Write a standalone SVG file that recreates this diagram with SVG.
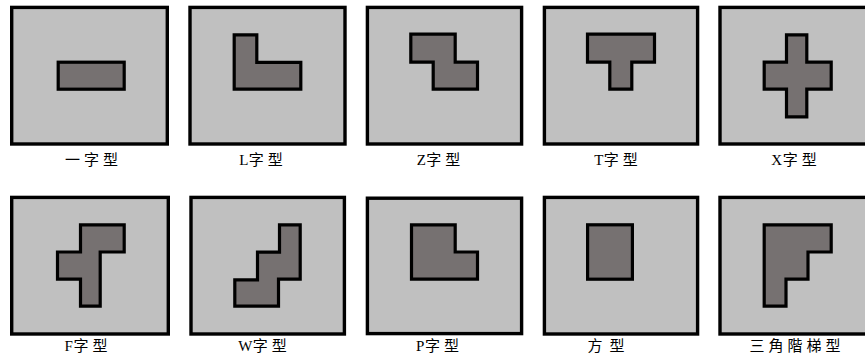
<svg xmlns="http://www.w3.org/2000/svg" width="865" height="359" viewBox="0 0 865 359">
<style>
.bg{fill:#ffffff}
.panel{fill:#c0c0c0;stroke:#000;stroke-width:3.4}
.shape{fill:#767171;stroke:#000;stroke-width:3.2;stroke-linejoin:miter}
.lbl{font-family:"Liberation Serif","Noto Sans CJK TC",serif;font-size:15px;letter-spacing:4px;fill:#000;text-anchor:middle}
.lat{letter-spacing:0.5px}
</style>
<rect class="bg" x="0" y="0" width="865" height="359"/>
<g id="n1">
<rect class="panel" x="11.7" y="7.4" width="155.6" height="136.6"/>
<rect class="shape" x="58.2" y="62.2" width="66" height="27"/>
<text class="lbl" x="93.5" y="165">一字型</text>
</g>
<g id="n2">
<rect class="panel" x="190" y="7.4" width="155" height="136.6"/>
<path class="shape" d="M234.2,34.8H256.8V62.4H300.8V89.2H234.2Z"/>
<text class="lbl" x="263" y="165"><tspan class="lat">L</tspan>字型</text>
</g>
<g id="n3">
<rect class="panel" x="367.4" y="7.4" width="154.2" height="136.6"/>
<path class="shape" d="M410.8,34.2H455.2V62.2H477.5V89.2H433.2V62.2H410.8Z"/>
<text class="lbl" x="440.5" y="165"><tspan class="lat">Z</tspan>字型</text>
</g>
<g id="n4">
<rect class="panel" x="544.4" y="7.4" width="153.2" height="136.6"/>
<path class="shape" d="M587.5,34.2H654.5V62.2H631.8V89.2H609.8V62.2H587.5Z"/>
<text class="lbl" x="618" y="165"><tspan class="lat">T</tspan>字型</text>
</g>
<g id="n5">
<rect class="panel" x="720" y="7.4" width="155" height="136.6"/>
<path class="shape" d="M786.5,34.8H806.8V62.2H831.2V89.2H806.8V116.8H786.5V89.2H764.2V62.2H786.5Z"/>
<text class="lbl" x="796" y="165"><tspan class="lat">X</tspan>字型</text>
</g>
<g id="n6">
<rect class="panel" x="11.7" y="197.4" width="156.6" height="136.6"/>
<path class="shape" d="M80.5,224.8H124.2V252H100.2V306.2H80.5V279.2H57.5V252H80.5Z"/>
<text class="lbl" x="88" y="351"><tspan class="lat">F</tspan>字型</text>
</g>
<g id="n7">
<rect class="panel" x="191" y="197.4" width="153.4" height="136.6"/>
<path class="shape" d="M279.5,224.8H300.2V279.2H278.5V306.2H234.8V279.8H257.5V252.2H279.5Z"/>
<text class="lbl" x="264.5" y="351"><tspan class="lat">W</tspan>字型</text>
</g>
<g id="n8">
<rect class="panel" x="367.4" y="198.2" width="154.2" height="135.4"/>
<path class="shape" d="M411.5,224.8H455.2V252H477.5V279.2H411.5Z"/>
<text class="lbl" x="439.5" y="351"><tspan class="lat">P</tspan>字型</text>
</g>
<g id="n9">
<rect class="panel" x="544.4" y="197.4" width="153.2" height="136.6"/>
<rect class="shape" x="587.6" y="224.8" width="44.8" height="54.4"/>
<text class="lbl" x="609.5" y="351" style="letter-spacing:7px">方型</text>
</g>
<g id="n10">
<rect class="panel" x="720" y="197.4" width="155" height="136.6"/>
<path class="shape" d="M764.2,224.8H831.2V252H808V279.2H786V306.2H764.2Z"/>
<text class="lbl" x="797" y="351">三角階梯型</text>
</g>
<g id="connectors"></g>
</svg>
